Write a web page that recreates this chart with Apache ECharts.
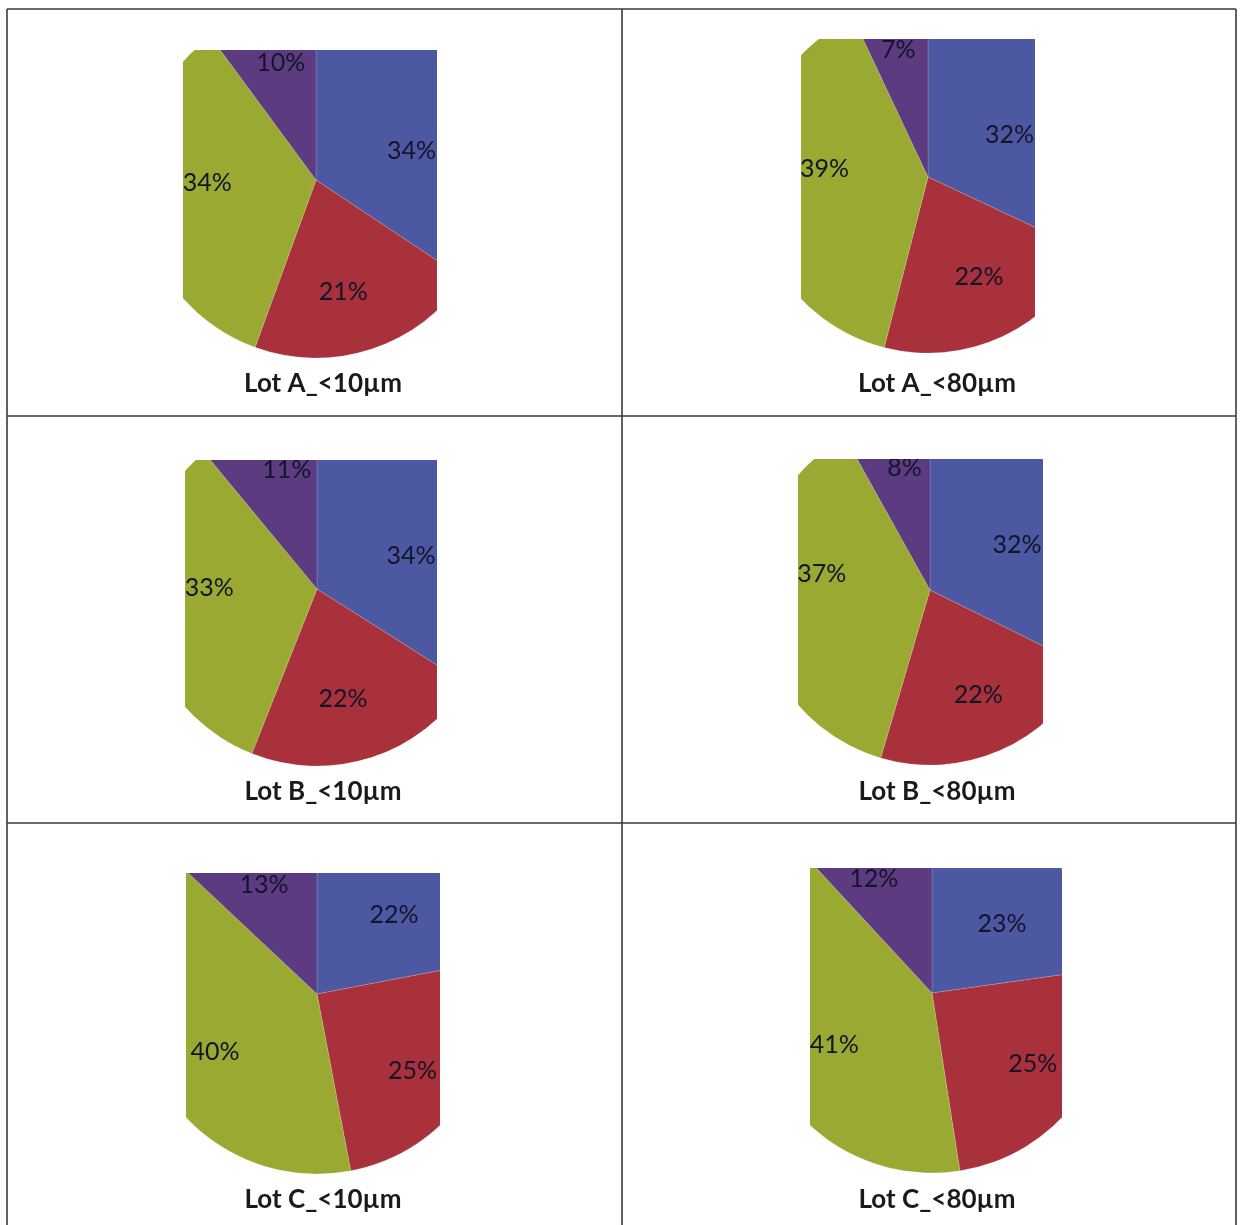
<!DOCTYPE html>
<html>
<head>
<meta charset="utf-8">
<style>
  html, body { margin: 0; padding: 0; background: #ffffff; }
  #chart { width: 1242px; height: 1225px; }
</style>
<script src="https://cdn.jsdelivr.net/npm/echarts@6/dist/echarts.min.js"></script>
</head>
<body>
<div id="chart"></div>
<script>
// Panel titles, one per cell of the table
const panelTitles = ['Lot A_<10µm', 'Lot A_<80µm', 'Lot B_<10µm', 'Lot B_<80µm', 'Lot C_<10µm', 'Lot C_<80µm'];
// Slice names (same order in every pie, clockwise from 12 o'clock)
const sliceNames = ['Fraction 1', 'Fraction 2', 'Fraction 3', 'Fraction 4'];
// Percentages per panel
const lotA10 = [34, 21, 34, 10];
const lotA80 = [32, 22, 39, 7];
const lotB10 = [34, 22, 33, 11];
const lotB80 = [32, 22, 37, 8];
const lotC10 = [22, 25, 40, 13];
const lotC80 = [23, 25, 41, 12];
const panelValues = [lotA10, lotA80, lotB10, lotB80, lotC10, lotC80];

const sliceColors = ['#4d58a2', '#a9313b', '#9aa932', '#5c3b80'];

// Cell layout: pie centre, radius, visible window (left, right, top), title position,
// and small per-slice nudges that keep each percentage label inside the window
const layout = [
  { cx: 316, cy: 180, r: 178, left: 183, right: 437, top: 50,  tx: 323, ty: 384,
    nudge: [[-4, 24], [-8, 5], [3, -13], [0, -10]] },
  { cx: 928, cy: 177, r: 176, left: 801, right: 1035, top: 39, tx: 937, ty: 384,
    nudge: [[-14, 18], [3, -2], [9, -19], [-5, -17]] },
  { cx: 317, cy: 589, r: 177, left: 185, right: 437, top: 460, tx: 323, ty: 792,
    nudge: [[-5, 21], [-9, 2], [4, -19], [8, -13]] },
  { cx: 930, cy: 590, r: 175, left: 798, right: 1043, top: 459, tx: 937, ty: 792,
    nudge: [[-9, 15], [3, 1], [4, -29], [3, -13]] },
  { cx: 317, cy: 994, r: 180, left: 186, right: 440, top: 873, tx: 323, ty: 1200,
    nudge: [[5, 8], [2, 13], [-3, 3], [-8, -5]] },
  { cx: 932, cy: 993, r: 180, left: 810, right: 1062, top: 868, tx: 937, ty: 1200,
    nudge: [[-4, 16], [10, 4], [4, 3], [-17, -9]] }
];
const labelRadius = 110;

// Table frame
const frame = { left: 7, right: 1236, top: 9, bottom: 1230, midX: 622, rowLines: [416, 823] };

const chart = echarts.init(document.getElementById('chart'), null, { renderer: 'canvas' });

const series = [];
const graphics = [];

panelValues.forEach(function (vals, i) {
  const L = layout[i];
  // coloured slices
  series.push({
    type: 'pie',
    center: [L.cx, L.cy],
    radius: [0, L.r],
    startAngle: 90,
    clockwise: true,
    silent: true,
    animation: false,
    label: { show: false },
    labelLine: { show: false },
    itemStyle: { borderColor: 'rgba(255,255,255,0.25)', borderWidth: 0.6 },
    data: vals.map(function (v, k) {
      return { name: sliceNames[k], value: v, itemStyle: { color: sliceColors[k] } };
    })
  });
  // percentage labels (transparent ring whose mid-radius carries the text)
  series.push({
    type: 'pie',
    center: [L.cx, L.cy],
    radius: [2 * labelRadius - L.r, L.r],
    startAngle: 90,
    clockwise: true,
    silent: true,
    animation: false,
    z: 3,
    itemStyle: { color: 'rgba(0,0,0,0)' },
    label: {
      show: true,
      position: 'inside',
      formatter: '{c}%',
      fontFamily: 'Lato',
      fontSize: 25,
      color: '#14142a'
    },
    labelLine: { show: false },
    data: vals.map(function (v, k) {
      return { name: sliceNames[k], value: v, label: { offset: L.nudge[k] } };
    })
  });

  // white masks trimming the pie to its window
  const pad = 6;
  const x0 = L.cx - L.r - pad, x1 = L.cx + L.r + pad;
  const y0 = L.cy - L.r - pad, y1 = L.cy + L.r + pad;
  const maskStyle = { fill: '#ffffff' };
  graphics.push({ type: 'rect', z: 50, silent: true, shape: { x: x0, y: y0, width: L.left - x0, height: y1 - y0 }, style: maskStyle });
  graphics.push({ type: 'rect', z: 50, silent: true, shape: { x: L.right, y: y0, width: x1 - L.right, height: y1 - y0 }, style: maskStyle });
  graphics.push({ type: 'rect', z: 50, silent: true, shape: { x: x0, y: y0, width: x1 - x0, height: L.top - y0 }, style: maskStyle });

  // panel title
  graphics.push({
    type: 'text', z: 60, silent: true,
    x: L.tx, y: L.ty,
    style: {
      text: panelTitles[i],
      fontFamily: 'Lato',
      fontWeight: 'bold',
      fontSize: 26,
      fill: '#1a1a1a',
      align: 'center',
      verticalAlign: 'middle'
    }
  });
});

// table lines
const lineStyle = { stroke: '#3a3a3a', lineWidth: 1.6 };
function hLine(y) {
  graphics.push({ type: 'line', z: 70, silent: true, shape: { x1: frame.left, y1: y, x2: frame.right, y2: y }, style: lineStyle });
}
function vLine(x) {
  graphics.push({ type: 'line', z: 70, silent: true, shape: { x1: x, y1: frame.top, x2: x, y2: frame.bottom }, style: lineStyle });
}
hLine(frame.top);
frame.rowLines.forEach(hLine);
vLine(frame.left);
vLine(frame.midX);
vLine(frame.right);

chart.setOption({
  animation: false,
  backgroundColor: '#ffffff',
  series: series,
  graphic: { elements: graphics }
});
</script>
</body>
</html>
